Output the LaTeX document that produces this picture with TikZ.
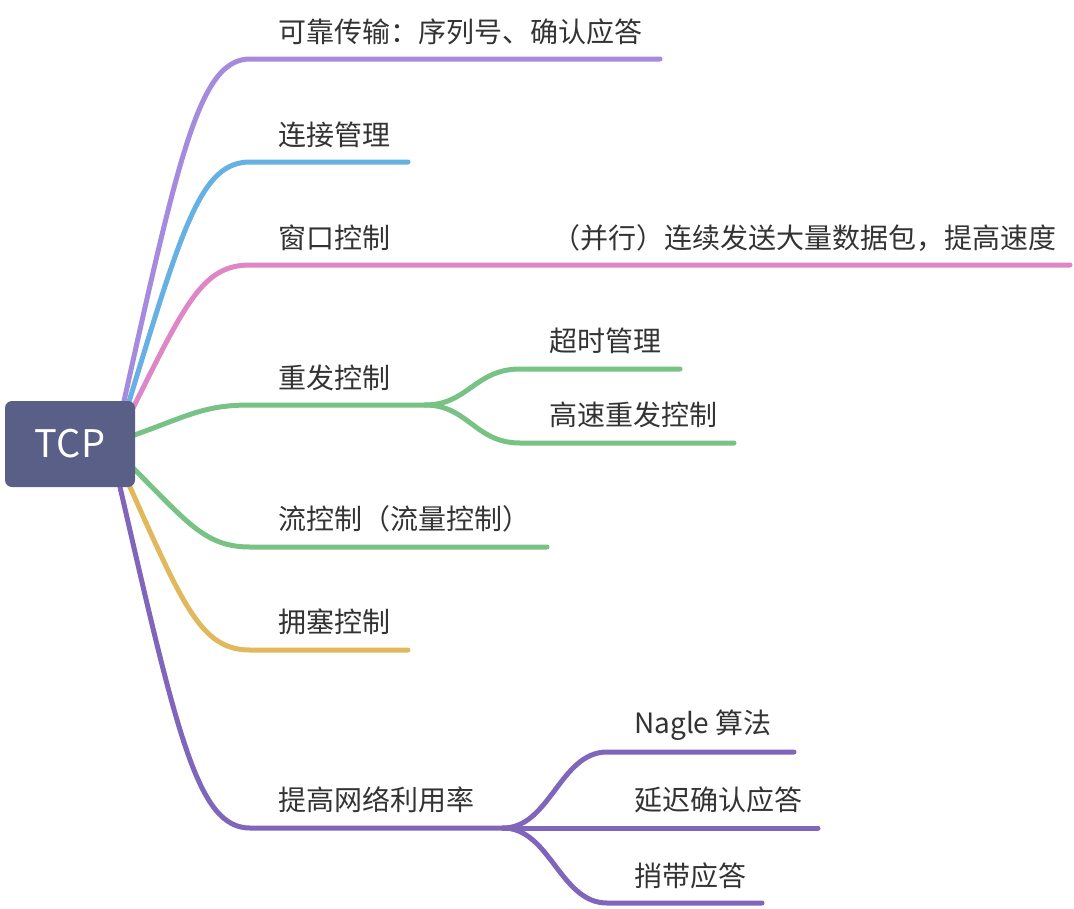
\documentclass[tikz,border=0pt]{standalone}
\usepackage{fontspec}
\setmainfont{Noto Sans CJK SC}
\definecolor{cA}{HTML}{A58BDE}
\definecolor{cB}{HTML}{67B0E3}
\definecolor{cC}{HTML}{DF86C7}
\definecolor{cD}{HTML}{79C285}
\definecolor{cE}{HTML}{E2B85C}
\definecolor{cF}{HTML}{7F66BB}
\definecolor{nodec}{HTML}{5A5F87}
\definecolor{txt}{HTML}{333333}
\begin{document}
\begin{tikzpicture}[x=1pt,y=-1pt,
  br/.style={line width=5pt, line cap=round},
  lbl/.style={anchor=west, inner sep=0pt, font=\fontsize{28}{30}\selectfont, text=txt}]
\useasboundingbox (0,0) rectangle (1074,908);
% coordinates
\coordinate (s1) at (122,410); \coordinate (e1) at (250,59);  \coordinate (f1) at (660,59);
\coordinate (s2) at (128,405); \coordinate (e2) at (250,162); \coordinate (f2) at (408,162);
\coordinate (s3) at (133,408); \coordinate (e3) at (250,265); \coordinate (f3) at (1070,265);
\coordinate (s4) at (120,440); \coordinate (e4) at (250,405); \coordinate (k4) at (425,405);
\coordinate (g4a) at (520,369); \coordinate (h4a) at (680,369);
\coordinate (g4b) at (520,443); \coordinate (h4b) at (734,443);
\coordinate (s5) at (125,460); \coordinate (e5) at (250,547); \coordinate (f5) at (547,547);
\coordinate (s6) at (130,487); \coordinate (e6) at (250,650); \coordinate (f6) at (408,650);
\coordinate (s7) at (120,487); \coordinate (e7) at (250,828); \coordinate (k7) at (503,828);
\coordinate (g7a) at (607,752); \coordinate (h7a) at (794,752);
\coordinate (h7b) at (818,828);
\coordinate (g7c) at (607,903); \coordinate (h7c) at (762,903);
% branches
\draw[br,cA] (s1) .. controls (180,150) and (200,59) .. (e1) -- (f1);
\draw[br,cB] (s2) .. controls (183,225) and (201,162) .. (e2) -- (f2);
\draw[br,cC] (s3) .. controls (186,302) and (203,265) .. (e3) -- (f3);
\draw[br,cD] (s4) .. controls (185,418) and (200,405) .. (e4) -- (k4);
\draw[br,cD] (k4) .. controls (468,405) and (475,369) .. (g4a) -- (h4a);
\draw[br,cD] (k4) .. controls (468,405) and (475,443) .. (g4b) -- (h4b);
\draw[br,cD] (s5) .. controls (186,520) and (203,547) .. (e5) -- (f5);
\draw[br,cE] (s6) .. controls (184,608) and (202,650) .. (e6) -- (f6);
\draw[br,cF] (s7) .. controls (178,739) and (198,828) .. (e7) -- (k7);
\draw[br,cF] (k7) .. controls (550,828) and (560,752) .. (g7a) -- (h7a);
\draw[br,cF] (k7) -- (h7b);
\draw[br,cF] (k7) .. controls (550,828) and (560,903) .. (g7c) -- (h7c);
% root
\node[fill=nodec, rounded corners=7pt, minimum width=130pt, minimum height=86pt, inner sep=0pt,
      text=white, font=\fontsize{38}{40}\selectfont] (tcp) at (70,444) {TCP};
% labels
\node[lbl] (t1) at (278,32) {可靠传输：序列号、确认应答};
\node[lbl] (t2) at (278,135) {连接管理};
\node[lbl] (t3) at (278,238) {窗口控制};
\node[lbl] (t3a) at (552,238) {（并行）连续发送大量数据包，提高速度};
\node[lbl] (t4) at (278,378) {重发控制};
\node[lbl] (t4a) at (549,341) {超时管理};
\node[lbl] (t4b) at (549,415) {高速重发控制};
\node[lbl] (t5) at (278,519) {流控制（流量控制）};
\node[lbl] (t6) at (278,622) {拥塞控制};
\node[lbl] (t7) at (278,800) {提高网络利用率};
\node[lbl] (t7a) at (634,725) {Nagle 算法};
\node[lbl] (t7b) at (634,800) {延迟确认应答};
\node[lbl] (t7c) at (634,876) {捎带应答};
\end{tikzpicture}
\end{document}
